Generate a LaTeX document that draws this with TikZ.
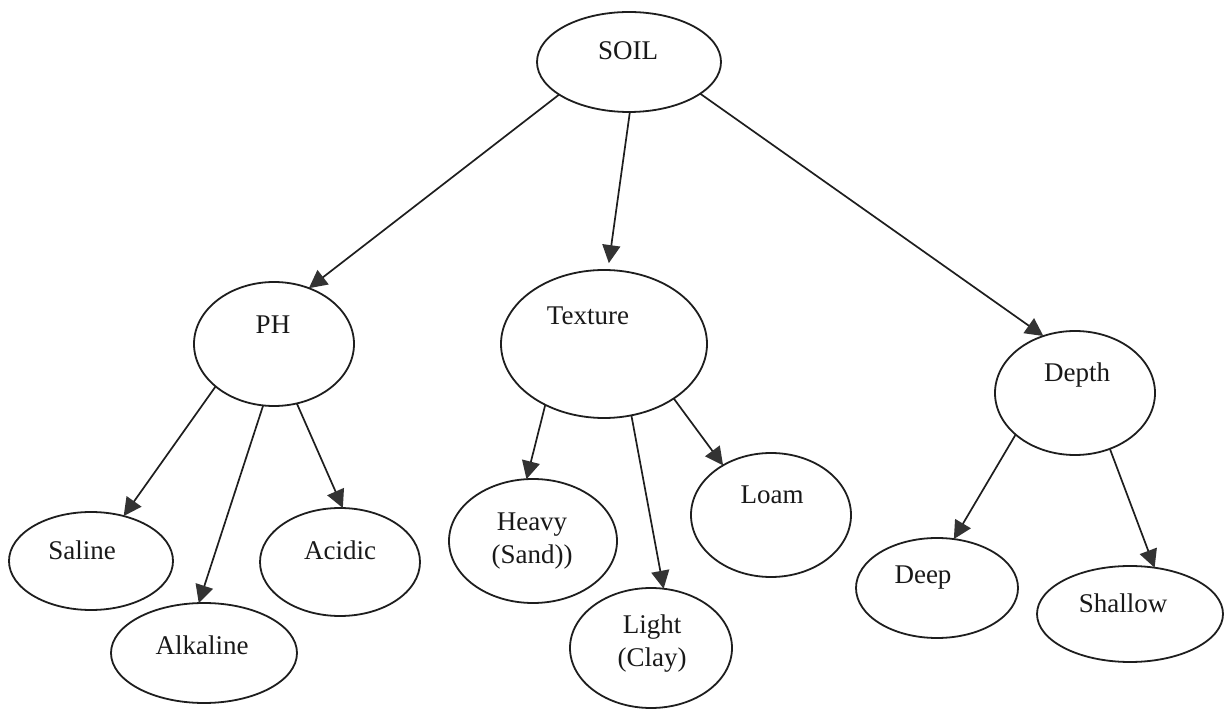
\documentclass[tikz,border=0pt]{standalone}
\usepackage{fontspec}
\setmainfont{Liberation Serif}
\usetikzlibrary{shapes.geometric,arrows.meta}

\definecolor{inkline}{HTML}{1E1E1E}
\definecolor{inkhead}{HTML}{333333}

\tikzset{
  oval/.style args={#1/#2}{ellipse, draw=inkline, line width=0.9pt, inner sep=0pt, outer sep=0pt,
    minimum width=#1pt, minimum height=#2pt},
  lbl/.style={font=\fontsize{13.5}{16.5}\selectfont, align=center, inner sep=0pt, text=black!90},
  link/.style={draw=inkline, line width=0.85pt,
    -{Triangle[length=9pt,width=9pt,color=inkhead,fill=inkhead]}}
}

\begin{document}
\begin{tikzpicture}[x=0.5pt,y=-0.5pt]
\useasboundingbox (0,0) rectangle (1226,710);
\fill[white] (0,0) rectangle (1226,710);

% ovals (centre in px, full width/height in pt)
\node[oval=92/50]  (soil)     at (629,62)   {};
\node[oval=80/62]  (ph)       at (274,344)  {};
\node[oval=103/74] (texture)  at (604,344)  {};
\node[oval=80/62]  (depth)    at (1075,393) {};
\node[oval=82/49]  (saline)   at (91,561)   {};
\node[oval=80/54]  (acidic)   at (340,562)  {};
\node[oval=93/50]  (alkaline) at (204,653)  {};
\node[oval=84/62]  (heavy)    at (533,541)  {};
\node[oval=81/60]  (light)    at (651,648)  {};
\node[oval=80/62]  (loam)     at (771,515)  {};
\node[oval=81/50]  (deep)     at (937,588)  {};
\node[oval=93/48]  (shallow)  at (1130,614) {};

% labels
\node[lbl] (t-soil)     at (628,51)   {SOIL};
\node[lbl] (t-ph)       at (273,325)  {PH};
\node[lbl] (t-texture)  at (588,316)  {Texture};
\node[lbl] (t-depth)    at (1077,375) {Depth};
\node[lbl] (t-saline)   at (82,550)   {Saline};
\node[lbl] (t-acidic)   at (340,550)  {Acidic};
\node[lbl] (t-alkaline) at (202,645)  {Alkaline};
\node[lbl] (t-heavy)    at (532,541)  {Heavy\\(Sand))};
\node[lbl] (t-light)    at (652,644)  {Light\\(Clay)};
\node[lbl] (t-loam)     at (772,495)  {Loam};
\node[lbl] (t-deep)     at (923,578)  {Deep};
\node[lbl] (t-shallow)  at (1123,603) {Shallow};

% connectors
\draw[link] (soil.205) -- (ph.58);
\draw[link, shorten >=3.5pt] (soil.271) -- (texture.87);
\draw[link] (soil.336) -- (depth.119);

\draw[link] (ph.216) -- (saline.54);
\draw[link] (ph.260) -- (alkaline.96);
\draw[link] (ph.291) -- (acidic.87);

\draw[link] (texture.226) -- (heavy.96);
\draw[link] (texture.291) -- (light.78);
\draw[link] (texture.322) -- (loam.134);

\draw[link] (depth.215) -- (deep.71);
\draw[link] (depth.302) -- (shallow.62);
\end{tikzpicture}
\end{document}
